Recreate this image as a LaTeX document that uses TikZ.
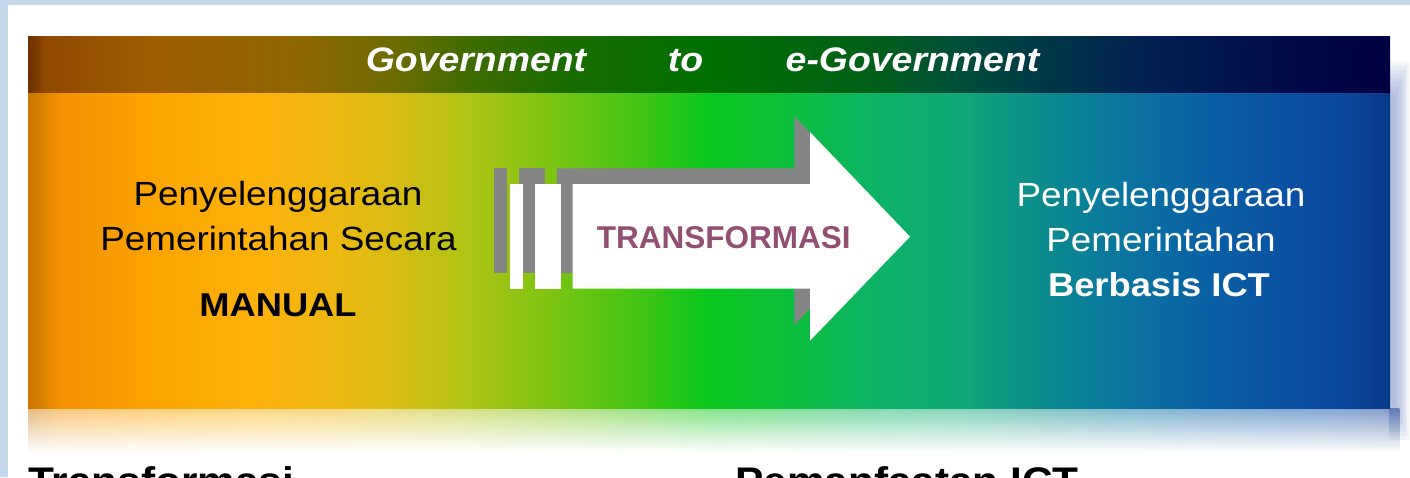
\documentclass[tikz,border=0pt]{standalone}
\usepackage{fontspec}
\setmainfont{Liberation Sans}
\newfontfamily\wsans[FakeStretch=1.1]{Liberation Sans}
\usetikzlibrary{fadings}

\definecolor{bgblue}{HTML}{C4D6EA}
\definecolor{glow}{HTML}{8CA0D0}
\definecolor{arrowgray}{HTML}{858585}
\definecolor{transf}{HTML}{934F72}

\definecolor{m1}{HTML}{C87400}
\definecolor{m2}{HTML}{F29200}
\definecolor{m3}{HTML}{FCA300}
\definecolor{m4}{HTML}{FFB10A}
\definecolor{m5}{HTML}{EEB810}
\definecolor{m6}{HTML}{D6BD12}
\definecolor{m7}{HTML}{AEC414}
\definecolor{m8}{HTML}{7CC412}
\definecolor{m9}{HTML}{40C414}
\definecolor{m10}{HTML}{0CC81C}
\definecolor{m11}{HTML}{0CC038}
\definecolor{m12}{HTML}{0CB464}
\definecolor{m13}{HTML}{10A878}
\definecolor{m14}{HTML}{0C8C8C}
\definecolor{m15}{HTML}{0A76A0}
\definecolor{m16}{HTML}{0A62A4}
\definecolor{m17}{HTML}{0A52A4}
\definecolor{m18}{HTML}{0A48A0}
\definecolor{m19}{HTML}{0A3888}

\definecolor{t1}{HTML}{6A3000}
\definecolor{t2}{HTML}{904800}
\definecolor{t3}{HTML}{A05E00}
\definecolor{t4}{HTML}{8E6800}
\definecolor{t5}{HTML}{6A6C00}
\definecolor{t6}{HTML}{3E6C00}
\definecolor{t7}{HTML}{1C6C00}
\definecolor{t8}{HTML}{007000}
\definecolor{t9}{HTML}{006018}
\definecolor{t10}{HTML}{004E3A}
\definecolor{t11}{HTML}{003848}
\definecolor{t12}{HTML}{002050}
\definecolor{t13}{HTML}{000C48}
\definecolor{t14}{HTML}{000040}

\pgfdeclarehorizontalshading{mainband}{100bp}{%
color(0bp)=(m1); color(25bp)=(m1); color(26.17bp)=(m2); color(29.48bp)=(m3);
color(33.15bp)=(m4); color(36.09bp)=(m5); color(38.66bp)=(m6); color(41.23bp)=(m7);
color(44.16bp)=(m8); color(47.47bp)=(m9); color(49.85bp)=(m10); color(52.61bp)=(m11);
color(55.91bp)=(m12); color(59.21bp)=(m13); color(62.15bp)=(m14); color(65.09bp)=(m15);
color(68.02bp)=(m16); color(70.96bp)=(m17); color(73.16bp)=(m18); color(75bp)=(m19);
color(100bp)=(m19)}

\pgfdeclarehorizontalshading{topband}{100bp}{%
color(0bp)=(t1); color(25bp)=(t1); color(25.62bp)=(t2); color(29.48bp)=(t3);
color(34.99bp)=(t4); color(38.66bp)=(t5); color(41.23bp)=(t6); color(44.53bp)=(t7);
color(49.67bp)=(t8); color(55.91bp)=(t9); color(59.21bp)=(t10); color(62.15bp)=(t11);
color(66.19bp)=(t12); color(70.96bp)=(t13); color(75bp)=(t14); color(100bp)=(t14)}

\tikzset{
  lbl/.style={inner sep=0pt, anchor=base},
  lblw/.style={inner sep=0pt, anchor=base west},
  sidefont/.style={font=\wsans\fontsize{33.5}{40}\selectfont},
  sidebold/.style={font=\wsans\bfseries\fontsize{33}{40}\selectfont},
  headfont/.style={font=\wsans\bfseries\itshape\fontsize{34}{40}\selectfont, text=white},
  bottomfont/.style={font=\wsans\bfseries\fontsize{38.5}{44}\selectfont, text=black},
}

\begin{document}
\begin{tikzpicture}[x=1pt,y=-1pt]
\clip (0,0) rectangle (1410,477);
% page background
\fill[bgblue] (0,0) rectangle (1410,477);
\fill[white] (8,5) rectangle (1410,477);
% soft right glow (layered)
\foreach \i in {0,...,9} {
  \fill[glow, opacity=0.10] (1389,{62+\i*4}) rectangle ({1409-\i*1.6},{440-\i*4});
}
% soft reflection
\shade[shading=mainband, opacity=0.5, path fading=south] (30,408) rectangle (1404,452);
% main panel
\shade[shading=mainband] (28,92) rectangle (1390,408);
\shade[shading=topband] (28,36) rectangle (1390,92);

% header text
\node[lbl, headfont] (hg) at (476,71.7) {Government};
\node[lbl, headfont] (hto) at (685.5,71.7) {to};
\node[lbl, headfont] (heg) at (912.5,71.7) {e-Government};

% arrow shadow (gray)
\fill[arrowgray] (494,168.3) rectangle (507,273);
\fill[arrowgray] (519,168.3) rectangle (545,273);
\fill[arrowgray] (557,168.3) -- (794.3,168.3) -- (794.3,116.3) -- (894.3,221)
  -- (794.3,325) -- (794.3,273) -- (557,273) -- cycle;
% arrow (white)
\fill[white] (510,184) rectangle (523,288.7);
\fill[white] (535,184) rectangle (561,288.7);
\fill[white] (572.7,184) -- (810,184) -- (810,132) -- (910,236.7)
  -- (810,340.7) -- (810,288.7) -- (572.7,288.7) -- cycle;
\node[lbl, text=transf, font=\bfseries\fontsize{31.5}{36}\selectfont] (tr) at (723.7,248) {TRANSFORMASI};

% left text
\node[lbl, sidefont, text=black] (l1) at (278,205.3) {Penyelenggaraan};
\node[lbl, sidefont, text=black] (l2) at (278.5,250.7) {Pemerintahan Secara};
\node[lbl, sidebold, text=black] (l3) at (278,316.7) {MANUAL};

% right text
\node[lbl, sidefont, text=white] (r1) at (1161,206.7) {Penyelenggaraan};
\node[lbl, sidefont, text=white] (r2) at (1161,251.7) {Pemerintahan};
\node[lbl, sidebold, text=white] (r3) at (1159,296.7) {Berbasis ICT};

% bottom (cut-off) headings
\node[lblw, bottomfont] (b1) at (28,494) {Transformasi};
\node[lblw, bottomfont] (b2) at (735,494) {Pemanfaatan ICT};
\end{tikzpicture}
\end{document}
